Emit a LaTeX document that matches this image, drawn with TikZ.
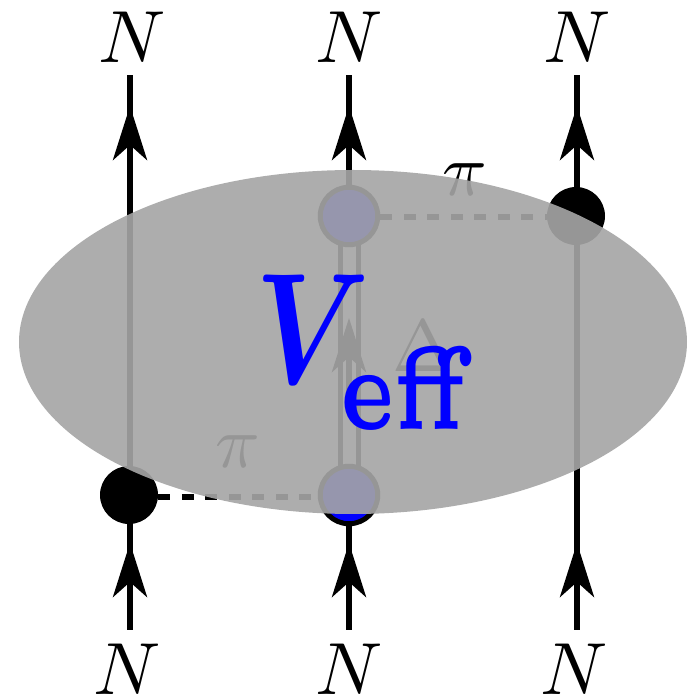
\documentclass[tikz,border=0pt]{standalone}
\usepackage{amsmath}
\usetikzlibrary{arrows.meta,calc,positioning}
\definecolor{blobgray}{HTML}{A5A5A5}
\tikzset{
  baselab/.style={inner sep=0pt,scale=4.2},
  line/.style={line width=0.12cm,draw=black},
  fermion/.style={line,-{Stealth[length=1.08cm,width=0.68cm,inset=0.3cm]}},
  pion/.style={line width=0.12cm,draw=black,dash pattern=on 0.24cm off 0.23cm},
  pionvertex/.style={circle,fill=black,inner sep=0pt,minimum size=1.16cm},
  deltavertex/.style={circle,fill=blue,draw=black,line width=0.1cm,inner sep=0pt,minimum size=1.15cm}
}
\begin{document}
\begin{tikzpicture}[x=1cm,y=1cm]
  \useasboundingbox (0,0) rectangle (13.84,13.88);

  \node[baselab] (Ntopa) at (2.64,13.14) {$N$};
  \node[baselab] (Ntopb) at (6.98,13.14) {$N$};
  \node[baselab] (Ntopc) at (11.54,13.14) {$N$};
  \node[baselab] (Nbota) at (2.54,0.50) {$N$};
  \node[baselab] (Nbotb) at (6.98,0.50) {$N$};
  \node[baselab] (Nbotc) at (11.48,0.50) {$N$};

  \coordinate (enda) at (2.60,12.38);
  \coordinate (endb) at (6.98,12.38);
  \coordinate (endc) at (11.54,12.38);
  \coordinate (inca) at (2.60,1.28);
  \coordinate (incb) at (6.98,1.28);
  \coordinate (incc) at (11.54,1.28);
  \coordinate (tipa) at (2.60,11.76);
  \coordinate (tipb) at (6.98,11.76);
  \coordinate (tipc) at (11.54,11.76);
  \coordinate (lowa) at (2.60,3.02);
  \coordinate (lowb) at (6.98,3.02);
  \coordinate (lowc) at (11.54,3.02);
  \coordinate (tailb) at (6.98,5.9);
  \coordinate (tipd) at (6.98,7.52);

  % fermion lines
  \draw[line] (inca) -- (enda);
  \draw[line] (incb) -- (6.98,3.94);
  \draw[line] (6.98,9.54) -- (endb);
  \draw[line] (incc) -- (endc);
  \foreach \a/\b in {inca/lowa,incb/lowb,incc/lowc} {
    \draw[fermion] (\a) -- (\b);
  }
  \draw[fermion] (2.60,10.5) -- (tipa);
  \draw[fermion] (6.98,10.5) -- (tipb);
  \draw[fermion] (11.54,10.5) -- (tipc);

  % vertices
  \node[pionvertex] (vertexa) at (2.58,3.98) {};
  \node[pionvertex] (vertexc) at (11.52,9.56) {};
  \draw[line width=0.1cm] (6.80,3.94) -- (6.80,9.54);
  \draw[line width=0.1cm] (7.17,3.94) -- (7.17,9.54);
  \draw[fermion] (tailb) -- (tipd);
  \node[deltavertex] (vertexb) at (6.98,3.98) {};
  \node[deltavertex] (vertexd) at (6.98,9.56) {};

  \draw[pion] (vertexa.east |- 0,3.94) -- (vertexb.west |- 0,3.94);
  \draw[pion] (vertexd.east |- 0,9.54) -- (vertexc.west |- 0,9.54);
  \node[baselab] (pilow) at (4.76,4.84) {$\pi$};
  \node[baselab] (pitop) at (9.30,10.28) {$\pi$};
  \node[baselab] (deltalab) at (8.46,6.96) {$\Delta$};

  \fill[blobgray,opacity=0.91] (7.06,7.04) ellipse [x radius=6.68,y radius=3.44];

  \node[inner sep=0pt,text=blue,xscale=7.0,yscale=9.0] (veff) at (7.32,6.83) {$\boldsymbol{V}$\kern-2.4pt\raisebox{-2.9pt}{\scalebox{1.28}[1.5]{$\scriptscriptstyle\mathbf{eff}$}}};
\end{tikzpicture}
\end{document}
